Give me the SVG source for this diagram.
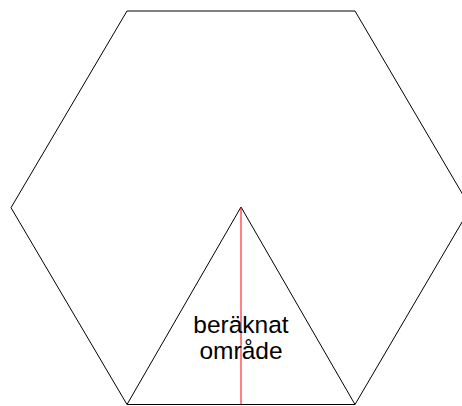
<svg xmlns="http://www.w3.org/2000/svg" width="462" height="406" viewBox="0 0 462 406">
<style>
.ln{fill:none;stroke:#000;stroke-width:1}
.lbl{font-family:"Liberation Sans",Arial,sans-serif;font-size:24.5px;fill:#000;text-anchor:middle}
</style>
<rect width="462" height="406" fill="#fff"/>
<g id="hexagon">
<polygon class="ln" points="127,11 355,11 470.5,207.7 355,404.5 127,404.5 11,207.7"/>
</g>
<g id="triangle">
<polygon class="ln" points="241,207 355,404.5 127,404.5"/>
</g>
<g id="connectors">
<line x1="241" y1="207" x2="241" y2="404.5" stroke="#f00" stroke-width="1"/>
</g>
<g id="label">
<text class="lbl" x="241" y="333">beräknat</text>
<text class="lbl" x="241" y="359">område</text>
</g>
</svg>
